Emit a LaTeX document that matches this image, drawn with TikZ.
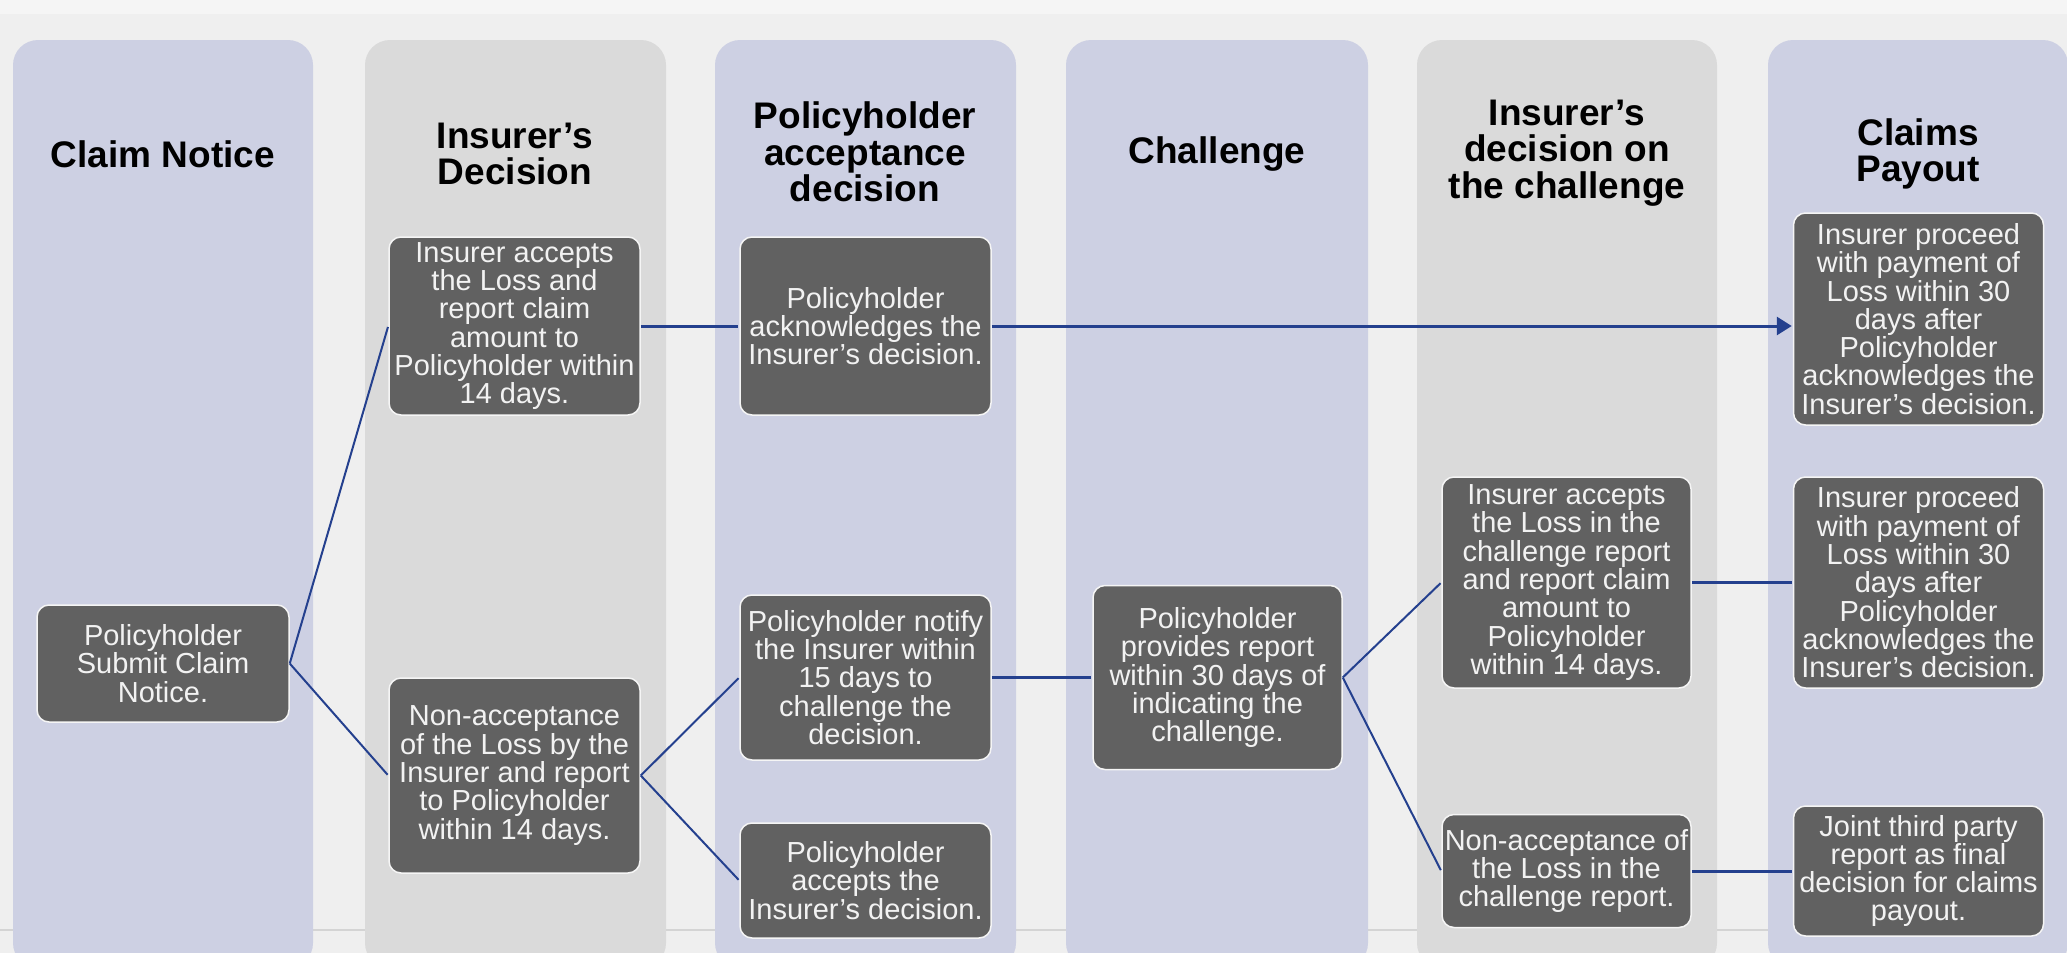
\documentclass[tikz,border=0pt]{standalone}
\usepackage{fontspec}
\setmainfont{Liberation Sans}
\usepackage{tikz}
\usetikzlibrary{arrows.meta}
\usetikzlibrary{positioning}
\definecolor{bggray}{RGB}{239,239,239}
\definecolor{bgtop}{RGB}{245,245,245}
\definecolor{footline}{RGB}{212,212,212}
\definecolor{laneblue}{RGB}{205,208,227}
\definecolor{lanegray}{RGB}{218,218,218}
\definecolor{boxgray}{RGB}{97,97,97}
\definecolor{boxedge}{RGB}{245,245,245}
\definecolor{boxtext}{RGB}{242,242,242}
\definecolor{linkblue}{RGB}{36,64,142}

\begin{document}
\begin{tikzpicture}[
            x = 1pt, y = -1pt, % one unit per pixel, y downwards
            > = {Triangle[length=15pt,width=18pt]}, % arrow head style
            shorten > = 1pt, % don't touch arrow head to node
            semithick % line style
        ]

        \tikzstyle{stepbox}=[
            rectangle,
            rounded corners = 12pt,
            fill = boxgray,
            draw = boxedge,
            line width = 1.5pt,
            text = boxtext,
            align = center,
            inner sep = 1pt,
            font = \fontsize{29}{28.3}\selectfont
        ]
        \tikzstyle{lanetitle}=[
            align = center,
            font = \fontsize{37}{36.3}\selectfont\bfseries
        ]
        \tikzstyle{link}=[color = linkblue, line width = 2pt]
        \tikzstyle{hlink}=[link, line width = 3pt]

        % page
        \useasboundingbox (0,0) rectangle (2067,953);
        \fill[bggray] (0,0) rectangle (2067,953);
        \fill[bgtop] (0,0) rectangle (2067,14);
        \draw[footline, line width = 1.5pt] (0,930) -- (2067,930);

        % lanes
        \fill[laneblue, rounded corners = 25pt] (13,40) rectangle (313,968);
        \fill[lanegray, rounded corners = 25pt] (365,40) rectangle (666,968);
        \fill[laneblue, rounded corners = 25pt] (715,40) rectangle (1016,968);
        \fill[laneblue, rounded corners = 25pt] (1066,40) rectangle (1368,968);
        \fill[lanegray, rounded corners = 25pt] (1417,40) rectangle (1717,968);
        \fill[laneblue, rounded corners = 25pt] (1768,40) rectangle (2068,968);

        % lane titles
        \node[lanetitle] (TCN) at (163,154) {Claim Notice};
        \node[lanetitle] (TID) at (515,154) {Insurer’s\\Decision};
        \node[lanetitle] (TPA) at (865,152) {Policyholder\\acceptance\\decision};
        \node[lanetitle] (TCH) at (1217,154) {Challenge};
        \node[lanetitle] (TDC) at (1567,153) {Insurer’s\\decision on\\the challenge};
        \node[lanetitle] (TCP) at (1918,154) {Claims\\Payout};

        % claim notice
        \node[stepbox, minimum width = 252pt, minimum height = 117pt] (SUB) at (163,663.5)
            {Policyholder\\Submit Claim\\Notice.};

        % insurer's decision
        \node[stepbox, minimum width = 251pt, minimum height = 178pt] (IACC) at (514.5,326)
            {Insurer accepts\\the Loss and\\report claim\\amount to\\Policyholder within\\14 days.};
        \node[stepbox, minimum width = 251pt, minimum height = 195pt] (INON) at (514.5,775.5)
            {Non-acceptance\\of the Loss by the\\Insurer and report\\to Policyholder\\within 14 days.};

        \path[link] (SUB.east) edge (IACC.west);
        \path[link] (SUB.east) edge (INON.west);

        % policyholder acceptance decision
        \node[stepbox, minimum width = 251pt, minimum height = 178pt] (PACK) at (865.5,326)
            {Policyholder\\acknowledges the\\Insurer’s decision.};
        \node[stepbox, minimum width = 251pt, minimum height = 165pt] (PNOT) at (865.5,677.5)
            {Policyholder notify\\the Insurer within\\15 days to\\challenge the\\decision.};
        \node[stepbox, minimum width = 251pt, minimum height = 115pt] (PACC) at (865.5,880.5)
            {Policyholder\\accepts the\\Insurer’s decision.};

        \path[hlink] (IACC.east) edge (PACK.west);
        \path[link] (INON.east) edge (PNOT.west);
        \path[link] (INON.east) edge (PACC.west);

        % challenge
        \node[stepbox, minimum width = 249pt, minimum height = 184pt] (PREP) at (1217.5,677.5)
            {Policyholder\\provides report\\within 30 days of\\indicating the\\challenge.};

        \path[hlink] (PNOT.east) edge (PREP.west);

        % insurer's decision on the challenge
        \node[stepbox, minimum width = 249pt, minimum height = 211pt] (CACC) at (1566.5,582.5)
            {Insurer accepts\\the Loss in the\\challenge report\\and report claim\\amount to\\Policyholder\\within 14 days.};
        \node[stepbox, minimum width = 249pt, minimum height = 113pt] (CNON) at (1566.5,871)
            {Non-acceptance of\\the Loss in the\\challenge report.};

        \path[link] (PREP.east) edge (CACC.west);
        \path[link] (PREP.east) edge (CNON.west);

        % claims payout
        \node[stepbox, minimum width = 250pt, minimum height = 212pt] (PAYA) at (1918.5,319)
            {Insurer proceed\\with payment of\\Loss within 30\\days after\\Policyholder\\acknowledges the\\Insurer’s decision.};
        \node[stepbox, minimum width = 250pt, minimum height = 211pt] (PAYB) at (1918.5,582.5)
            {Insurer proceed\\with payment of\\Loss within 30\\days after\\Policyholder\\acknowledges the\\Insurer’s decision.};
        \node[stepbox, minimum width = 250pt, minimum height = 130pt] (JTP) at (1918.5,871)
            {Joint third party\\report as final\\decision for claims\\payout.};

        \path[hlink, ->] (PACK.east) edge (PACK.east -| PAYA.west);
        \path[hlink] (CACC.east) edge (PAYB.west);
        \path[hlink] (CNON.east) edge (JTP.west);

\end{tikzpicture}
\end{document}
